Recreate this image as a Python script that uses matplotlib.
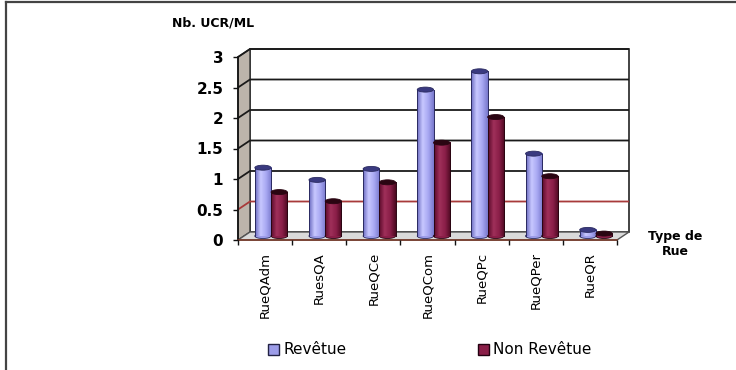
import matplotlib
matplotlib.use('Agg')
import matplotlib.pyplot as plt
import numpy as np
from matplotlib.patches import Polygon, Ellipse, Rectangle, Patch
from matplotlib.lines import Line2D
from matplotlib.colors import LinearSegmentedColormap

categories = ['RueQAdm', 'RuesQA', 'RueQCe', 'RueQCom', 'RueQPc', 'RueQPer', 'RueQR']
revetue = [1.12, 0.92, 1.1, 2.4, 2.7, 1.35, 0.1]
non_revetue = [0.72, 0.57, 0.88, 1.53, 1.95, 0.98, 0.04]
series_names = ['Revêtue', 'Non Revêtue']
y_ticks = [0, 0.5, 1, 1.5, 2, 2.5, 3]
y_tick_labels = ['0', '0.5', '1', '1.5', '2', '2.5', '3']
y_title = 'Nb. UCR/ML'
x_title = 'Type de\nRue'

plt.rcParams['font.family'] = ['DejaVu Sans']

W, H = 736, 370
fig = plt.figure(figsize=(W / 100, H / 100), dpi=100)
fig.patch.set_facecolor('white')

ax_l, ax_b, ax_w, ax_h = 238, 130, 379, 183
ax = fig.add_axes([ax_l / W, ax_b / H, ax_w / W, ax_h / H])
n = len(categories)
ymax = y_ticks[-1]
ax.set_xlim(0, n)
ax.set_ylim(0, ymax)
ax.patch.set_visible(False)

# depth offsets of the pseudo-3D box, in data units
dx = 12 * n / ax_w
dy = 8 * ymax / ax_h

# back wall
ax.add_patch(Rectangle((dx, dy), n, ymax, facecolor='white', edgecolor='#222222',
                       lw=1.2, clip_on=False, zorder=0.1))
# side wall
ax.add_patch(Polygon([(0, 0), (dx, dy), (dx, ymax + dy), (0, ymax)], closed=True,
                     facecolor='#BCB4AB', edgecolor='#333333', lw=1.0,
                     clip_on=False, zorder=0.2))
# floor
ax.add_patch(Polygon([(0, 0), (n, 0), (n + dx, dy), (dx, dy)], closed=True,
                     facecolor='#DADADA', edgecolor='#555555', lw=1.0,
                     clip_on=False, zorder=0.2))
# gridlines
for v in y_ticks[1:]:
    col = '#A83A3A' if v == 0.5 else '#1A1A1A'
    ax.plot([0, dx, n + dx], [v, v + dy, v + dy], color=col, lw=1.3,
            clip_on=False, zorder=0.3, solid_capstyle='butt')

# cylinders
bw = 0.3
eh = 5 * ymax / ax_h
styles = [
    dict(cmap=LinearSegmentedColormap.from_list('rv', ['#6A6AC0', '#C8C8FF', '#A8A8F2', '#7878CC']),
         cap='#3A3A80', edge='#2A2A60', mid='#9C9CE8'),
    dict(cmap=LinearSegmentedColormap.from_list('nr', ['#5A0A2A', '#A0305A', '#8A1E48', '#4A0820']),
         cap='#2A0512', edge='#2A0512', mid='#8A1E48'),
]
grad = np.linspace(0, 1, 64).reshape(1, -1)
for j, vals in enumerate([revetue, non_revetue]):
    st = styles[j]
    for i, v in enumerate(vals):
        xc = i + 0.5 + (j - 0.5) * bw + dx / 2
        base = dy / 2
        top = v + dy / 2
        x0, x1 = xc - bw / 2, xc + bw / 2
        ax.add_patch(Ellipse((xc, base), bw, eh, facecolor=st['mid'], edgecolor=st['edge'],
                             lw=0.6, zorder=2 + j * 0.1, clip_on=False))
        ax.imshow(grad, extent=[x0, x1, base, top], cmap=st['cmap'], aspect='auto',
                  interpolation='bilinear', zorder=2.01 + j * 0.1, clip_on=False)
        ax.plot([x0, x0], [base, top], color=st['edge'], lw=0.7, zorder=2.02 + j * 0.1, clip_on=False)
        ax.plot([x1, x1], [base, top], color=st['edge'], lw=0.7, zorder=2.02 + j * 0.1, clip_on=False)
        ax.add_patch(Ellipse((xc, top), bw, eh, facecolor=st['cap'], edgecolor=st['edge'],
                             lw=0.6, zorder=2.03 + j * 0.1, clip_on=False))

ax.set_xlim(0, n)
ax.set_ylim(0, ymax)

# spines / ticks
for s in ['top', 'right']:
    ax.spines[s].set_visible(False)
ax.spines['left'].set_color('#111111')
ax.spines['left'].set_linewidth(1.2)
ax.spines['bottom'].set_color('#7A3A2A')
ax.spines['bottom'].set_linewidth(1.2)
ax.spines['left'].set_zorder(0.4)
ax.spines['bottom'].set_zorder(0.4)

ax.set_yticks(y_ticks)
ax.set_yticklabels(y_tick_labels, fontsize=11, fontweight='bold')
ax.tick_params(axis='y', direction='out', length=3.6, width=1.0, pad=7, color='#111111')
ax.set_xticks(np.arange(0, n + 1))
ax.set_xticklabels([''] * (n + 1))
ax.tick_params(axis='x', which='major', direction='out', length=3.6, width=1.0, color='#111111')
ax.set_xticks(np.arange(n) + 0.5, minor=True)
ax.set_xticklabels(categories, minor=True, rotation=90, fontsize=9.5)
ax.tick_params(axis='x', which='minor', length=0, pad=8.5)

# titles
fig.text(172 / W, 1 - 23 / H, y_title, fontsize=9, fontweight='bold', ha='left', va='center')
fig.text(675 / W, 1 - 244 / H, x_title, fontsize=9, fontweight='bold', ha='center',
         va='center', linespacing=1.15)

# legend
handles = [Patch(facecolor=styles[0]['mid'], edgecolor='#222244', lw=1.0),
           Patch(facecolor=styles[1]['mid'], edgecolor='#220010', lw=1.0)]
fig.legend(handles, series_names, loc='center', bbox_to_anchor=(430 / W, 1 - 350 / H),
           ncol=2, frameon=False, fontsize=11, handlelength=0.7, handleheight=0.7,
           handletextpad=0.3, columnspacing=8.6)

# outer frame (left and top edges)
fig.add_artist(Line2D([6 / W, 6 / W], [0, 1 - 2 / H], transform=fig.transFigure,
                      color='#444444', lw=1.6))
fig.add_artist(Line2D([6 / W, 1], [1 - 2 / H, 1 - 2 / H], transform=fig.transFigure,
                      color='#444444', lw=1.6))

fig.savefig('out.png', dpi=100)
